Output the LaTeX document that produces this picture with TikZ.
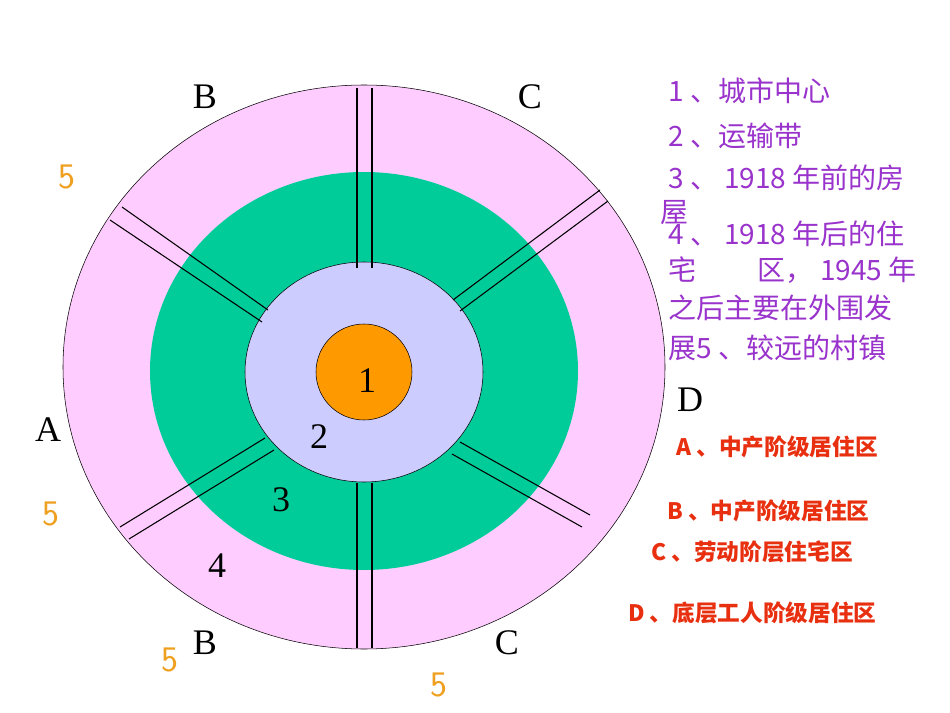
\documentclass[tikz,border=0pt]{standalone}
\usepackage{fontspec}
\setmainfont{Liberation Serif}
\newfontfamily\cjk{Noto Sans CJK SC}
\begin{document}
\begin{tikzpicture}[x=0.75pt,y=-0.75pt,
  sep/.style={draw=black,line width=0.8pt},
  lbl/.style={font=\fontsize{27}{27}\selectfont},
  five/.style={text=orange5,font=\sffamily\fontsize{27}{27}\selectfont},
  purp/.style={text=purp,font=\cjk\fontsize{21}{21}\selectfont,anchor=west,inner sep=0},
  redl/.style={text=redl,font=\cjk\bfseries\fontsize{17}{17}\selectfont,anchor=west,inner sep=0}]
\definecolor{pinkf}{HTML}{FFCCFF}
\definecolor{greenf}{HTML}{00CC99}
\definecolor{lavf}{HTML}{CCCCFF}
\definecolor{orangef}{HTML}{FF9900}
\definecolor{orange5}{HTML}{F0A020}
\definecolor{purp}{HTML}{9933CC}
\definecolor{redl}{HTML}{E83010}
\useasboundingbox (0,0) rectangle (950,713);
\fill[white] (0,0) rectangle (950,713);
\draw[fill=pinkf] (364,367) ellipse [x radius=301,y radius=282];
\draw[fill=greenf,draw=none] (364,371) ellipse [x radius=214,y radius=199];
\draw[fill=lavf] (364,372) ellipse [x radius=119,y radius=110];
% radial double lines
\coordinate (t1) at (357,88); \coordinate (t2) at (357,268);
\coordinate (t3) at (372,88); \coordinate (t4) at (372,268);
\draw[sep] (t1)--(t2); \draw[sep] (t3)--(t4);
\coordinate (b1) at (357,483); \coordinate (b2) at (357,648);
\coordinate (b3) at (372,483); \coordinate (b4) at (372,648);
\draw[sep] (b1)--(b2); \draw[sep] (b3)--(b4);
\coordinate (ul1) at (110,220); \coordinate (ul2) at (262,322);
\coordinate (ul3) at (122,207); \coordinate (ul4) at (268,310);
\draw[sep] (ul1)--(ul2); \draw[sep] (ul3)--(ul4);
\coordinate (ur1) at (600,190); \coordinate (ur2) at (453,300);
\coordinate (ur3) at (608,201); \coordinate (ur4) at (460,311);
\draw[sep] (ur1)--(ur2); \draw[sep] (ur3)--(ur4);
\coordinate (ll1) at (120,527); \coordinate (ll2) at (265,438);
\coordinate (ll3) at (129,539); \coordinate (ll4) at (274,450);
\draw[sep] (ll1)--(ll2); \draw[sep] (ll3)--(ll4);
\coordinate (lr1) at (590,515); \coordinate (lr2) at (460,442);
\coordinate (lr3) at (582,527); \coordinate (lr4) at (452,454);
\draw[sep] (lr1)--(lr2); \draw[sep] (lr3)--(lr4);
\draw[fill=orangef] (364,372) circle [radius=48];
% labels
\node[lbl] (n1) at (367,381) {1};
\node[lbl] (n2) at (319,437) {2};
\node[lbl] (n3) at (281,500) {3};
\node[lbl] (n4) at (217,566) {4};
\node[lbl] (lB1) at (205,97) {B};
\node[lbl] (lC1) at (530,97) {C};
\node[lbl] (lA) at (48,430) {A};
\node[lbl] (lD) at (690,400) {D};
\node[lbl] (lB2) at (205,643) {B};
\node[lbl] (lC2) at (507,643) {C};
\node[five] (f1) at (67,177) {5};
\node[five] (f2) at (51,514) {5};
\node[five] (f3) at (170,660) {5};
\node[five] (f4) at (439,685) {5};
% legend
\node[purp] (p1) at (668,91) {1 、城市中心};
\node[purp] (p2) at (668,136) {2 、运输带};
\node[purp] (p3) at (668,178) {3 、 1918 年前的房};
\node[purp] (p3b) at (660,213) {屋};
\node[purp] (p4) at (668,234) {4 、 1918 年后的住};
\node[purp] (p5) at (668,270) {宅\hspace{2.2em}区， 1945 年};
\node[purp] (p6) at (668,308) {之后主要在外围发};
\node[purp] (p7) at (668,348) {展5 、较远的村镇};
\node[redl] (rA) at (676,447) {A 、中产阶级居住区};
\node[redl] (rB) at (667,511) {B 、中产阶级居住区};
\node[redl] (rC) at (651,552) {C 、劳动阶层住宅区};
\node[redl] (rD) at (628,613) {D 、底层工人阶级居住区};
\end{tikzpicture}
\end{document}
